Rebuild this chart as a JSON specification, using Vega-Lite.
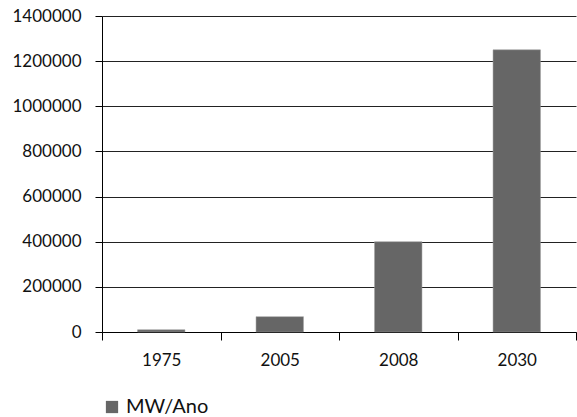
{
  "$schema": "https://vega.github.io/schema/vega-lite/v6.json",
  "autosize": "none",
  "width": 474,
  "height": 316,
  "padding": {"left": 102, "top": 16, "right": 1, "bottom": 85},
  "background": "white",
  "data": {
    "values": [
      {"ano": "1975", "serie": "MW/Ano", "valor": 10000},
      {"ano": "2005", "serie": "MW/Ano", "valor": 68000},
      {"ano": "2008", "serie": "MW/Ano", "valor": 400000},
      {"ano": "2030", "serie": "MW/Ano", "valor": 1250000}
    ]
  },
  "mark": {"type": "bar", "stroke": "#9a9a9a", "strokeWidth": 0.5, "width": {"band": 0.4}},
  "encoding": {
    "x": {
      "field": "ano",
      "type": "ordinal",
      "sort": null,
      "scale": {"paddingInner": 0, "paddingOuter": 0},
      "axis": {
        "title": null,
        "labelAngle": 0,
        "tickBand": "extent",
        "ticks": true,
        "tickSize": 8,
        "tickColor": "#000000",
        "tickWidth": 1,
        "domainColor": "#000000",
        "labelFont": "Lato",
        "labelFontSize": 17,
        "labelColor": "#111",
        "labelPadding": 12
      }
    },
    "y": {
      "field": "valor",
      "type": "quantitative",
      "scale": {"domain": [0, 1400000], "nice": false},
      "axis": {
        "title": null,
        "values": [0, 200000, 400000, 600000, 800000, 1000000, 1200000, 1400000],
        "format": "d",
        "tickSize": 7,
        "tickColor": "#000",
        "domainColor": "#000",
        "gridColor": "#222",
        "gridOpacity": 1,
        "labelFont": "Lato",
        "labelFontSize": 17,
        "labelColor": "#111",
        "labelPadding": 14
      }
    },
    "color": {
      "field": "serie",
      "type": "nominal",
      "scale": {"range": ["#666666"]},
      "legend": {
        "title": null,
        "orient": "none",
        "legendX": 0,
        "legendY": 381,
        "symbolType": "square",
        "symbolSize": 150,
        "symbolStrokeWidth": 0,
        "labelFont": "Lato",
        "labelFontSize": 20,
        "labelColor": "#111",
        "labelOffset": 4
      }
    }
  },
  "config": {
    "view": {"stroke": null}
  }
}
